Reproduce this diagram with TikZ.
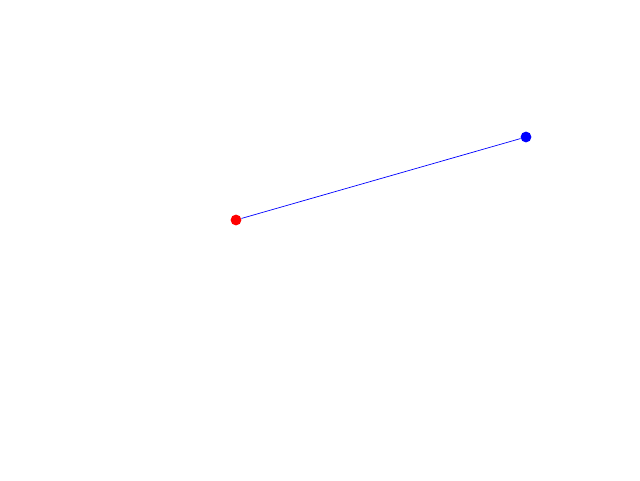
\documentclass[tikz,border=0pt]{standalone}
\usepackage{tikz}

\tikzset{dot/.style={circle,inner sep=0pt,minimum size=0.27cm}}

\begin{document}
\begin{tikzpicture}
    \useasboundingbox (0,0) rectangle (16,12);
    \node[dot,fill=red] (P) at (5.9,6.5) {};
    \node[dot,fill=blue] (Q) at (13.15,8.575) {};
             \draw[blue,line width=0.5pt] (P) -- (Q);
\end{tikzpicture}
\end{document}
